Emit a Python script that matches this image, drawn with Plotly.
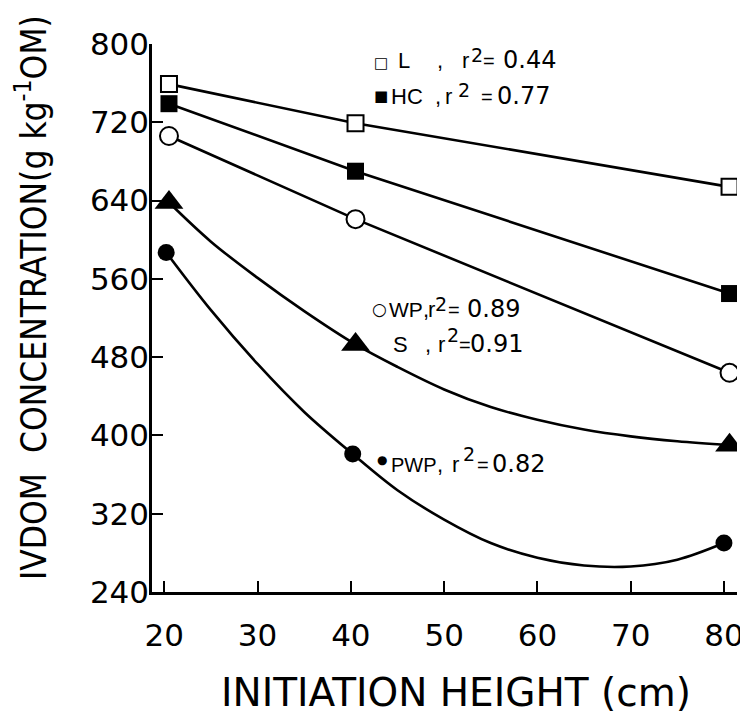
import plotly.graph_objects as go

# ---------------- data ----------------
x_marks_main = [20.5, 40.5, 80.6]          # initiation height (cm) as plotted
x_marks_pwp = [20.2, 40.2, 80.0]
L_vals = [759, 719, 654]
HC_vals = [739, 670, 545]
WP_vals = [706, 621, 464]
S_vals = [638, 493, 390]
PWP_vals = [587, 381, 290]

# fitted regression curves
S_fit_x = [20.5, 25, 30, 35, 40.5, 45, 50, 55, 60, 65, 70, 75, 80.6]
S_fit_y = [638, 598, 561, 527, 493, 470, 447, 429, 416, 406, 399, 394, 390]
PWP_fit_x = [20.2, 25, 30, 35, 40.2, 45, 50, 55, 60, 65, 70, 75, 80.0]
PWP_fit_y = [587, 528, 473, 424, 381, 344, 314, 290, 275, 267, 266, 273, 290]

x_tick_vals = [20, 30, 40, 50, 60, 70, 80]
y_tick_vals = [240, 320, 400, 480, 560, 640, 720, 800]

legend_names = ["L", "HC", "WP", "S", "PWP"]
legend_symbols = ["\u25a1", "\u25a0", "\u25cb", "", "\u25cf"]
legend_r2 = ["0.44", "0.77", "0.89", "0.91", "0.82"]

x_title = "INITIATION HEIGHT (cm)"
y_title = "IVDOM  CONCENTRATION(g kg<sup>-1</sup>OM)"

# ---------------- figure ----------------
# the page body has an 8px margin, so the figure is sized/offset to fill the window
OFF = 8
W, H = 740, 711
ML, MR, MT, MB = 144, 11, 36, 127
PW, PH = W - ML - MR, H - MT - MB

def px(x):   # window pixel -> paper
    return (x - OFF - ML) / PW

def py(y):
    return (H - MB - (y - OFF)) / PH

BLACK = "black"
LW = 2.6

fig = go.Figure()

fig.add_trace(go.Scatter(x=x_marks_main, y=L_vals, mode="lines+markers",
                         line=dict(color=BLACK, width=LW),
                         marker=dict(symbol="square", size=16, color="white",
                                     line=dict(color=BLACK, width=2))))
fig.add_trace(go.Scatter(x=x_marks_main, y=HC_vals, mode="lines+markers",
                         line=dict(color=BLACK, width=LW),
                         marker=dict(symbol="square", size=17, color=BLACK)))
fig.add_trace(go.Scatter(x=x_marks_main, y=WP_vals, mode="lines+markers",
                         line=dict(color=BLACK, width=LW),
                         marker=dict(symbol="circle", size=18, color="white",
                                     line=dict(color=BLACK, width=2))))
fig.add_trace(go.Scatter(x=S_fit_x, y=S_fit_y, mode="lines",
                         line=dict(color=BLACK, width=LW, shape="spline", smoothing=1.0)))
fig.add_trace(go.Scatter(x=PWP_fit_x, y=PWP_fit_y, mode="lines",
                         line=dict(color=BLACK, width=LW, shape="spline", smoothing=1.0)))
fig.add_trace(go.Scatter(x=x_marks_main, y=S_vals, mode="markers",
                         marker=dict(symbol="triangle-up", size=25, color=BLACK)))
fig.add_trace(go.Scatter(x=x_marks_pwp, y=PWP_vals, mode="markers",
                         marker=dict(symbol="circle", size=17, color=BLACK)))

TICKFONT = dict(family="DejaVu Sans", size=31, color=BLACK)
axis_common = dict(showline=True, linecolor=BLACK, linewidth=2.5, ticks="inside",
                   ticklen=11, tickwidth=2.2, tickcolor=BLACK, showgrid=False,
                   zeroline=False, tickfont=TICKFONT, automargin=False)

fig.update_layout(
    width=W, height=H, margin=dict(l=ML, r=MR, t=MT, b=MB),
    paper_bgcolor="white", plot_bgcolor="white", showlegend=False,
    xaxis=dict(range=[18.68, 81.4], tickvals=x_tick_vals, ticklabelstandoff=14,
               **axis_common),
    yaxis=dict(range=[240, 800], tickvals=y_tick_vals, ticklabelstandoff=-6,
               **axis_common),
)

anns = []
anns.append(dict(text=x_title, x=px(456), y=py(692), xref="paper", yref="paper",
                 xanchor="center", yanchor="middle", showarrow=False,
                 font=dict(family="DejaVu Sans", size=39, color=BLACK)))
anns.append(dict(text=y_title, x=px(31), y=py(298), xref="paper", yref="paper",
                 xanchor="center", yanchor="middle", showarrow=False, textangle=-90,
                 font=dict(family="DejaVu Sans Condensed, sans-serif",
                           size=35, color=BLACK)))

# legend pieces (window px): baseline, symbol(cx,cy,size), name(cx,size), comma cx, r cx,
#                             superscript(cx,cy), "=" cx, value cx
legend_layout = [
    (68.5, (381, 63, 15), (404, 22), 440, 465, (477, 55), 489.5, 529),
    (104, (380.5, 96, 15), (406.5, 22), 438, 448.5, (463.5, 89.5), 486.5, 523),
    (317, (379, 309, 17), (405.5, 21), 425.5, 431.5, (441, 303.5), 454, 493),
    (352, None, (400, 22), 428, 441.5, (452.5, 335), 464.5, 496),
    (472, (382, 460, 12), (413.5, 20), 439.5, 455, (469, 454), 483, 518),
]
LETTER = "Liberation Sans"
DIGIT = "DejaVu Sans"

def piece(text, cx, cy, size, family):
    anns.append(dict(text=text, x=px(cx), y=py(cy), xref="paper", yref="paper",
                     xanchor="center", yanchor="middle", showarrow=False, borderpad=0,
                     font=dict(family=family, size=size, color=BLACK)))

for i, (base, sym, name, ccx, rcx, sup, ecx, vcx) in enumerate(legend_layout):
    if sym is not None:
        piece(legend_symbols[i], sym[0], sym[1], sym[2], DIGIT)
    piece(legend_names[i], name[0], base - 0.35 * name[1], name[1], LETTER)
    piece(",", ccx, base - 0.35 * 22, 22, LETTER)
    piece("r", rcx, base - 0.35 * 22, 22, LETTER)
    piece("2", sup[0], sup[1], 19, DIGIT)
    piece("=", ecx, base - 0.35 * 20, 20, LETTER)
    piece(legend_r2[i], vcx, base - 0.35 * 24, 24, DIGIT)

fig.update_layout(annotations=anns)
fig.write_html("out.html")
